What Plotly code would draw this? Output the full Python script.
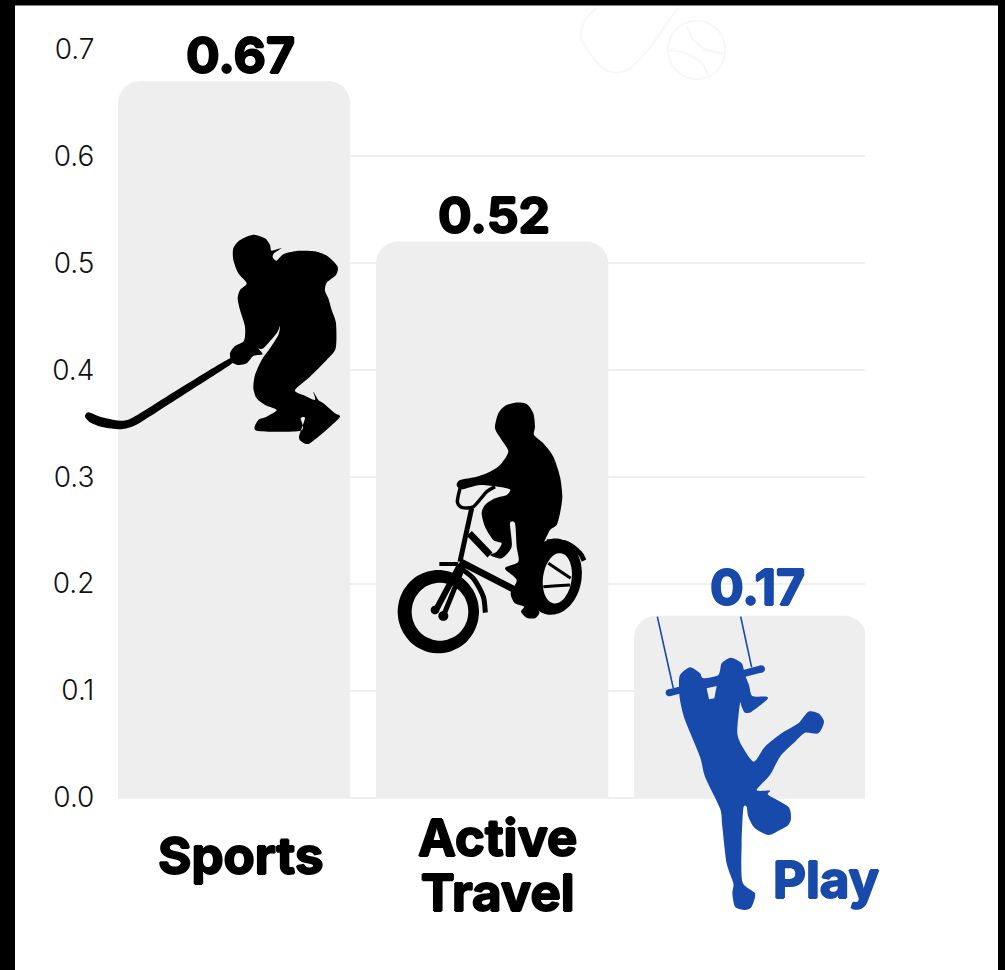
import numpy as np
import plotly.graph_objects as go

categories = ["Sports", "Active Travel", "Play"]
axis_labels = ["Sports", "Active<br>Travel", "Play"]
values = [0.67, 0.52, 0.17]
value_labels = ["0.67", "0.52", "0.17"]
y_ticks = [0.0, 0.1, 0.2, 0.3, 0.4, 0.5, 0.6, 0.7]

BLUE = "#174AAB"
BLACK = "#000000"
BAR = "#EEEEEE"
GRID = "#EFEFEF"
bar_text_colors = [BLACK, BLACK, BLUE]
W, H = 1005, 970


def P(x, y):
    return f"{x / W:.5f},{1 - y / H:.5f}"


def path(points, origin=(0, 0), scale=1 / 3, close=True, smooth=True):
    pts = [(origin[0] + x * scale, origin[1] + y * scale) for x, y in points]
    n = len(pts)
    s = "M" + P(*pts[0])
    if not smooth:
        s += " L" + " L".join(P(*p) for p in pts[1:])
        return s + (" Z" if close else "")
    segs = n if close else n - 1
    for i in range(segs):
        if close:
            p0, p1, p2, p3 = pts[(i - 1) % n], pts[i], pts[(i + 1) % n], pts[(i + 2) % n]
        else:
            p0, p1, p2, p3 = pts[max(i - 1, 0)], pts[i], pts[i + 1], pts[min(i + 2, n - 1)]
        k = 1 / 8
        c1 = (p1[0] + (p2[0] - p0[0]) * k, p1[1] + (p2[1] - p0[1]) * k)
        c2 = (p2[0] - (p3[0] - p1[0]) * k, p2[1] - (p3[1] - p1[1]) * k)
        s += f" C{P(*c1)} {P(*c2)} {P(*p2)}"
    return s + (" Z" if close else "")


def ellipse(cx, cy, rx, ry, rot=0.0, n=24):
    t = np.linspace(0, 2 * np.pi, n, endpoint=False)
    c, s = np.cos(np.radians(rot)), np.sin(np.radians(rot))
    return [(cx + rx * np.cos(a) * c - ry * np.sin(a) * s,
             cy + rx * np.cos(a) * s + ry * np.sin(a) * c) for a in t]


shapes = []


def fill(points, origin, color, smooth=True):
    shapes.append(dict(type="path", xref="paper", yref="paper", path=path(points, origin, smooth=smooth),
                       fillcolor=color, line=dict(width=0), layer="above"))


def stroke(points, origin, color, width, close=False):
    shapes.append(dict(type="path", xref="paper", yref="paper", path=path(points, origin, close=close),
                       line=dict(color=color, width=width), layer="above"))


# frame of the screenshot
for x0, y0, x1, y1 in [(0, 0, 15, H), (0, 0, W, 5.5), (998, 0, W, H)]:
    shapes.append(dict(type="rect", xref="paper", yref="paper", x0=x0 / W, x1=x1 / W,
                       y0=1 - y1 / H, y1=1 - y0 / H, fillcolor=BLACK, line=dict(width=0), layer="above"))

# faint decoration at the top
O5 = (560, 0)
stroke([(110, 22), (72, 65), (62, 110), (90, 160), (130, 205), (170, 218), (210, 205), (260, 155), (300, 100), (355, 22)], O5, "#F7F7F7", 2)
stroke(ellipse(410, 150, 86, 88), O5, "#F7F7F7", 2, close=True)
stroke([(380, 80), (400, 120), (440, 150), (490, 160)], O5, "#F7F7F7", 2)
stroke([(330, 150), (380, 160), (425, 190), (445, 225)], O5, "#F7F7F7", 2)

# hockey player
O3 = (70, 220)
fill([(550, 44), (585, 55), (600, 75), (605, 92), (635, 84), (612, 100), (608, 112), (620, 122), (640, 103), (680, 93),
      (740, 95), (775, 110), (803, 140), (798, 165), (770, 188), (765, 212), (775, 235), (785, 270), (798, 310),
      (797, 385), (770, 420), (720, 470), (675, 510), (700, 525), (735, 540), (730, 515), (745, 540), (760, 550),
      (795, 580), (810, 590), (780, 620), (745, 650), (715, 672), (695, 665), (687, 650), (705, 595), (692, 595),
      (692, 632), (560, 632), (565, 600), (590, 590), (620, 570), (585, 555), (560, 535), (550, 505), (555, 465),
      (575, 420), (600, 385), (625, 345), (630, 318), (620, 340), (580, 385), (565, 385), (578, 403), (550, 408),
      (530, 430), (505, 435), (485, 425), (480, 400), (495, 378), (522, 362), (525, 320), (510, 270), (503, 235),
      (510, 210), (530, 190), (505, 160), (490, 120), (490, 85), (510, 60)], O3, BLACK)
fill([(487, 430), (340, 525), (215, 605), (185, 620), (150, 628), (100, 622), (62, 608), (45, 590), (55, 577), (90, 590),
      (150, 602), (190, 592), (330, 505), (480, 415)], O3, BLACK)

# child on a bicycle
O4 = (380, 390)
fill(ellipse(175, 665, 122, 125), O4, BLACK)
fill(ellipse(180, 665, 85, 87), O4, BAR)
fill(ellipse(520, 560, 85, 115, 8), O4, BLACK)
fill(ellipse(532, 565, 43, 76, 8), O4, BAR)
stroke([(235, 530), (280, 565), (310, 620), (316, 668)], O4, BLACK, 5)
stroke([(178, 522), (235, 522)], O4, BLACK, 4)
stroke([(240, 525), (168, 660)], O4, BLACK, 6)
stroke([(250, 530), (190, 678)], O4, BLACK, 5)
fill(ellipse(165, 660, 13, 13), O4, BLACK)
fill(ellipse(190, 678, 15, 15), O4, BLACK)
stroke([(240, 295), (232, 335), (245, 352), (280, 350), (320, 305), (345, 290)], O4, BLACK, 3.5)
stroke([(275, 355), (240, 515)], O4, BLACK, 5)
stroke([(268, 430), (330, 495)], O4, BLACK, 7)
stroke([(240, 515), (425, 610)], O4, BLACK, 7)
stroke([(500, 455), (560, 460), (600, 490), (612, 512)], O4, BLACK, 5)
stroke([(505, 520), (572, 565)], O4, BLACK, 3)
stroke([(490, 590), (570, 585)], O4, BLACK, 3)
fill([(405, 38), (440, 42), (460, 70), (465, 110), (462, 135), (490, 160), (520, 200), (540, 260), (547, 320),
      (540, 370), (530, 405), (510, 420), (490, 460), (470, 490), (465, 560), (470, 600), (475, 655), (478, 670),
      (465, 685), (440, 683), (423, 665), (432, 650), (405, 640), (392, 610), (410, 570), (375, 535), (415, 515),
      (410, 470), (405, 400), (390, 400), (395, 470), (365, 505), (330, 495), (350, 485), (365, 460), (340, 450),
      (315, 410), (305, 370), (315, 345), (345, 325), (380, 315), (390, 298), (355, 290), (300, 285), (245, 298),
      (230, 285), (240, 270), (290, 260), (330, 245), (360, 225), (385, 185), (365, 150), (345, 115), (355, 70),
      (375, 48)], O4, BLACK)

# girl on a trapeze
O2 = (605, 560)
stroke([(157, 170), (205, 385)], O2, BLUE, 1.6)
stroke([(407, 170), (440, 322)], O2, BLUE, 1.6)
stroke([(195, 398), (468, 327)], O2, BLUE, 7)
fill(ellipse(193, 398, 11, 11), O2, BLUE)
fill(ellipse(469, 327, 11, 11), O2, BLUE)
fill([(222, 380), (225, 345), (255, 322), (285, 340), (295, 355), (340, 345), (350, 310), (378, 293), (410, 310),
      (420, 345), (432, 375), (442, 408), (485, 410), (485, 420), (440, 455), (420, 458), (410, 440), (405, 430),
      (397, 520), (415, 565), (447, 605), (480, 560), (530, 520), (580, 490), (610, 455), (640, 460), (657, 485),
      (640, 520), (600, 518), (565, 550), (525, 590), (495, 645), (455, 690), (495, 692), (490, 705), (550, 740),
      (558, 775), (550, 795), (525, 810), (490, 825), (450, 805), (430, 770), (425, 740), (415, 745), (410, 850),
      (412, 965), (450, 1000), (440, 1040), (420, 1050), (390, 1040), (382, 1000), (385, 970), (365, 910), (352, 800),
      (345, 745), (300, 650), (285, 590), (240, 480), (225, 420)], O2, BLUE)
fill([(305, 385), (335, 378), (328, 415), (312, 418)], O2, BAR, smooth=False)


def heavy(color):
    return ",".join(f"{dx}px {dy}px 0 {color}" for dx, dy in [(1, 0), (-1, 0), (0, 1), (0, -1)])


annotations = []
# category labels: vertical centre and horizontal offset from the bar centre
label_y = [855, 865, 879]
label_shift = [6, 5, 76]
for c, text, yy, dx, col in zip(categories, axis_labels, label_y, label_shift, bar_text_colors):
    inner = "<br>".join(f'<span style="font-size:51px">{part}</span>' for part in text.split("<br>"))
    annotations.append(dict(x=c, y=1 - yy / H, xref="x", yref="paper", text=inner,
                            showarrow=False, xshift=dx, yanchor="middle", xanchor="center", align="center",
                            font=dict(family="Inter", size=42.3, weight=700, color=col, shadow=heavy(col))))
# value labels above the bars
value_shift = [6, 2, 7]
value_gap = [-6, -6, -3]
for c, v, t, col, dx, dy in zip(categories, values, value_labels, bar_text_colors, value_shift, value_gap):
    annotations.append(dict(x=c, y=v, xref="x", yref="y", text=t, showarrow=False, xshift=dx, yshift=dy,
                            yanchor="bottom", xanchor="center",
                            font=dict(family="Inter", size=50, weight=700, color=col, shadow=heavy(col))))

fig = go.Figure(go.Bar(x=categories, y=values, width=0.9,
                       marker=dict(color=BAR, cornerradius=22, line=dict(width=0)),
                       cliponaxis=False, hoverinfo="skip"))
fig.update_layout(width=W, height=H, margin=dict(l=0, r=0, t=0, b=0), autosize=False,
                  paper_bgcolor="white", plot_bgcolor="white", showlegend=False,
                  shapes=shapes, annotations=annotations)
fig.update_xaxes(domain=[118 / W, 865 / W], range=[-0.45, 2.445], type="category", showticklabels=False,
                 showgrid=False, zeroline=False, showline=False, ticks="", automargin=False)
fig.update_yaxes(domain=[1 - 797.5 / H, 1 - 49 / H], range=[0, 0.7], tickvals=y_ticks, tickformat=".1f",
                 showgrid=True, gridcolor=GRID, gridwidth=2, zeroline=True, zerolinecolor=GRID, zerolinewidth=2,
                 showline=False, ticks="outside", ticklen=17, tickcolor="rgba(0,0,0,0)", automargin=False,
                 tickfont=dict(family="Inter", size=28, weight=300, color="#111111"))
fig.write_html("out.html", config={"displayModeBar": False},
               post_script="document.body.style.margin='0';")
